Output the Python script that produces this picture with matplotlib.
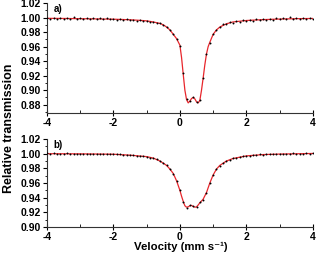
import numpy as np
import matplotlib
matplotlib.use("Agg")
import matplotlib.pyplot as plt
from matplotlib.ticker import MultipleLocator

# ---------------- data ----------------
vel = np.round(np.arange(-4.0, 4.001, 0.1), 2)  # velocity channels (mm/s)

top_points = [
    0.9992, 0.9985, 0.9995, 0.9980, 0.9990, 0.9978, 0.9996, 0.9986, 1.0004, 0.9982,
    0.9993, 0.9980, 0.9998, 0.9984, 0.9995, 0.9976, 0.9990, 0.9983, 0.9997, 0.9975,
    0.9986, 0.9972, 0.9985, 0.9968, 0.9978, 0.9965, 0.9972, 0.9958, 0.9966, 0.9950,
    0.9960, 0.9942, 0.9945, 0.9925, 0.9922, 0.9895, 0.9875, 0.9825, 0.9778, 0.9705,
    0.9615, 0.9230, 0.8875, 0.8845, 0.8905, 0.8835, 0.8870, 0.9165, 0.9505, 0.9655,
    0.9775, 0.9835, 0.9872, 0.9905, 0.9915, 0.9935, 0.9930, 0.9952, 0.9945, 0.9962,
    0.9950, 0.9968, 0.9958, 0.9975, 0.9962, 0.9980, 0.9965, 0.9985, 0.9970, 0.9992,
    0.9975, 0.9995, 0.9978, 1.0002, 0.9982, 0.9998, 0.9980, 0.9994, 0.9983, 0.9990, 0.9986,
]

bottom_points = [
    1.0003, 0.9998, 1.0004, 0.9997, 1.0002, 0.9996, 1.0003, 0.9998, 1.0001, 0.9995,
    1.0002, 0.9996, 1.0000, 0.9994, 1.0001, 0.9995, 0.9999, 0.9992, 0.9998, 0.9991,
    0.9996, 0.9990, 0.9992, 0.9986, 0.9987, 0.9980, 0.9979, 0.9972, 0.9970, 0.9962,
    0.9960, 0.9948, 0.9942, 0.9922, 0.9903, 0.9872, 0.9842, 0.9788, 0.9728, 0.9630,
    0.9500, 0.9345, 0.9265, 0.9295, 0.9285, 0.9270, 0.9335, 0.9375, 0.9470, 0.9605,
    0.9712, 0.9792, 0.9838, 0.9872, 0.9902, 0.9918, 0.9937, 0.9945, 0.9958, 0.9962,
    0.9972, 0.9975, 0.9983, 0.9982, 0.9990, 0.9986, 0.9994, 0.9990, 0.9997, 0.9993,
    0.9998, 0.9995, 1.0001, 0.9996, 1.0003, 0.9998, 1.0002, 0.9999, 1.0004, 1.0000, 1.0003,
]

top_fit_x = [-4.0, -3.5, -3.0, -2.5, -2.0, -1.5, -1.2, -1.0, -0.8, -0.6, -0.5, -0.4,
             -0.3, -0.2, -0.1, 0.0, 0.05, 0.1, 0.15, 0.2, 0.25, 0.3, 0.35, 0.4,
             0.45, 0.5, 0.55, 0.6, 0.65, 0.7, 0.75, 0.8, 0.85, 0.9, 1.0, 1.1,
             1.2, 1.4, 1.6, 2.0, 2.5, 3.0, 3.5, 4.0]
top_fit_y = [0.9990, 0.9988, 0.9985, 0.9982, 0.9978, 0.9970, 0.9962, 0.9955, 0.9940, 0.9920, 0.9900, 0.9870,
             0.9830, 0.9770, 0.9710, 0.9620, 0.9450, 0.9220, 0.9000, 0.8870, 0.8825, 0.8850, 0.8885, 0.8900,
             0.8880, 0.8840, 0.8825, 0.8860, 0.9000, 0.9170, 0.9350, 0.9500, 0.9600, 0.9660, 0.9770, 0.9830,
             0.9870, 0.9915, 0.9940, 0.9960, 0.9972, 0.9980, 0.9985, 0.9988]

bot_fit_x = [-4.0, -3.0, -2.0, -1.5, -1.0, -0.8, -0.6, -0.5, -0.4, -0.3, -0.2, -0.1,
             0.0, 0.05, 0.1, 0.15, 0.2, 0.25, 0.3, 0.35, 0.4, 0.45, 0.5, 0.55,
             0.6, 0.7, 0.8, 0.9, 1.0, 1.1, 1.2, 1.4, 1.6, 2.0, 2.5, 3.0, 4.0]
bot_fit_y = [1.0000, 0.9998, 0.9993, 0.9980, 0.9960, 0.9940, 0.9900, 0.9870, 0.9840, 0.9790, 0.9730, 0.9630,
             0.9500, 0.9420, 0.9350, 0.9290, 0.9270, 0.9275, 0.9290, 0.9295, 0.9280, 0.9270, 0.9275, 0.9300,
             0.9330, 0.9380, 0.9470, 0.9600, 0.9710, 0.9790, 0.9840, 0.9900, 0.9935, 0.9970, 0.9988, 0.9995, 1.0003]

panel_labels = ["a)", "b)"]
top_yticks = [0.88, 0.90, 0.92, 0.94, 0.96, 0.98, 1.00, 1.02]
bot_yticks = [0.90, 0.92, 0.94, 0.96, 0.98, 1.00, 1.02]
xticks = [-4, -2, 0, 2, 4]

# ---------------- plot ----------------
plt.rcParams['font.family'] = ['Liberation Sans', 'DejaVu Sans']
plt.rcParams['font.weight'] = 'bold'

fig = plt.figure(figsize=(3.17, 2.57), dpi=100)
ax1 = fig.add_axes([0.148, 0.5615, 0.839, 0.4265])
ax2 = fig.add_axes([0.148, 0.1167, 0.839, 0.3423])

red = '#e8262c'
specs = [
    (ax1, top_points, top_fit_x, top_fit_y, (0.869, 1.02), top_yticks, panel_labels[0], 0.95),
    (ax2, bottom_points, bot_fit_x, bot_fit_y, (0.90, 1.02), bot_yticks, panel_labels[1], 0.93),
]
for ax, pts, fx, fy, ylim, yt, lab, ly in specs:
    ax.plot(fx, fy, '-', color=red, linewidth=0.9, zorder=2)
    ax.plot(vel, pts, 'o', color='black', markersize=1.4, markeredgewidth=0, zorder=3)
    ax.set_xlim(-4, 4)
    ax.set_ylim(*ylim)
    ax.set_xticks(xticks)
    ax.set_yticks(yt)
    ax.xaxis.set_minor_locator(MultipleLocator(1))
    ax.yaxis.set_minor_locator(MultipleLocator(0.01))
    ax.set_xticklabels([str(t) for t in xticks])
    ax.set_yticklabels([f"{t:.2f}" for t in yt])
    for s in ['top', 'right']:
        ax.spines[s].set_visible(False)
    for s in ['left', 'bottom']:
        ax.spines[s].set_linewidth(0.8)
        ax.spines[s].set_color('#333333')
    ax.tick_params(axis='y', which='major', direction='out', length=3, width=0.8, labelsize=7.5, pad=1.5)
    ax.tick_params(axis='y', which='minor', direction='out', length=1.5, width=0.6)
    ax.tick_params(axis='x', which='major', direction='inout', length=4, width=0.8, labelsize=7.5, pad=1.5)
    ax.tick_params(axis='x', which='minor', direction='in', length=2, width=0.6)
    ax.text(0.025, ly, lab, transform=ax.transAxes, fontsize=7, fontweight='bold',
            ha='left', va='center')

fig.text(0.027, 0.5, 'Relative transmission', rotation=90, ha='center', va='center',
         fontsize=9, fontweight='bold')
fig.text(0.57, 0.038, 'Velocity (mm s\u207b\u00b9)', ha='center', va='center',
         fontsize=8.2, fontweight='bold')

fig.savefig('out.png', dpi=100)
